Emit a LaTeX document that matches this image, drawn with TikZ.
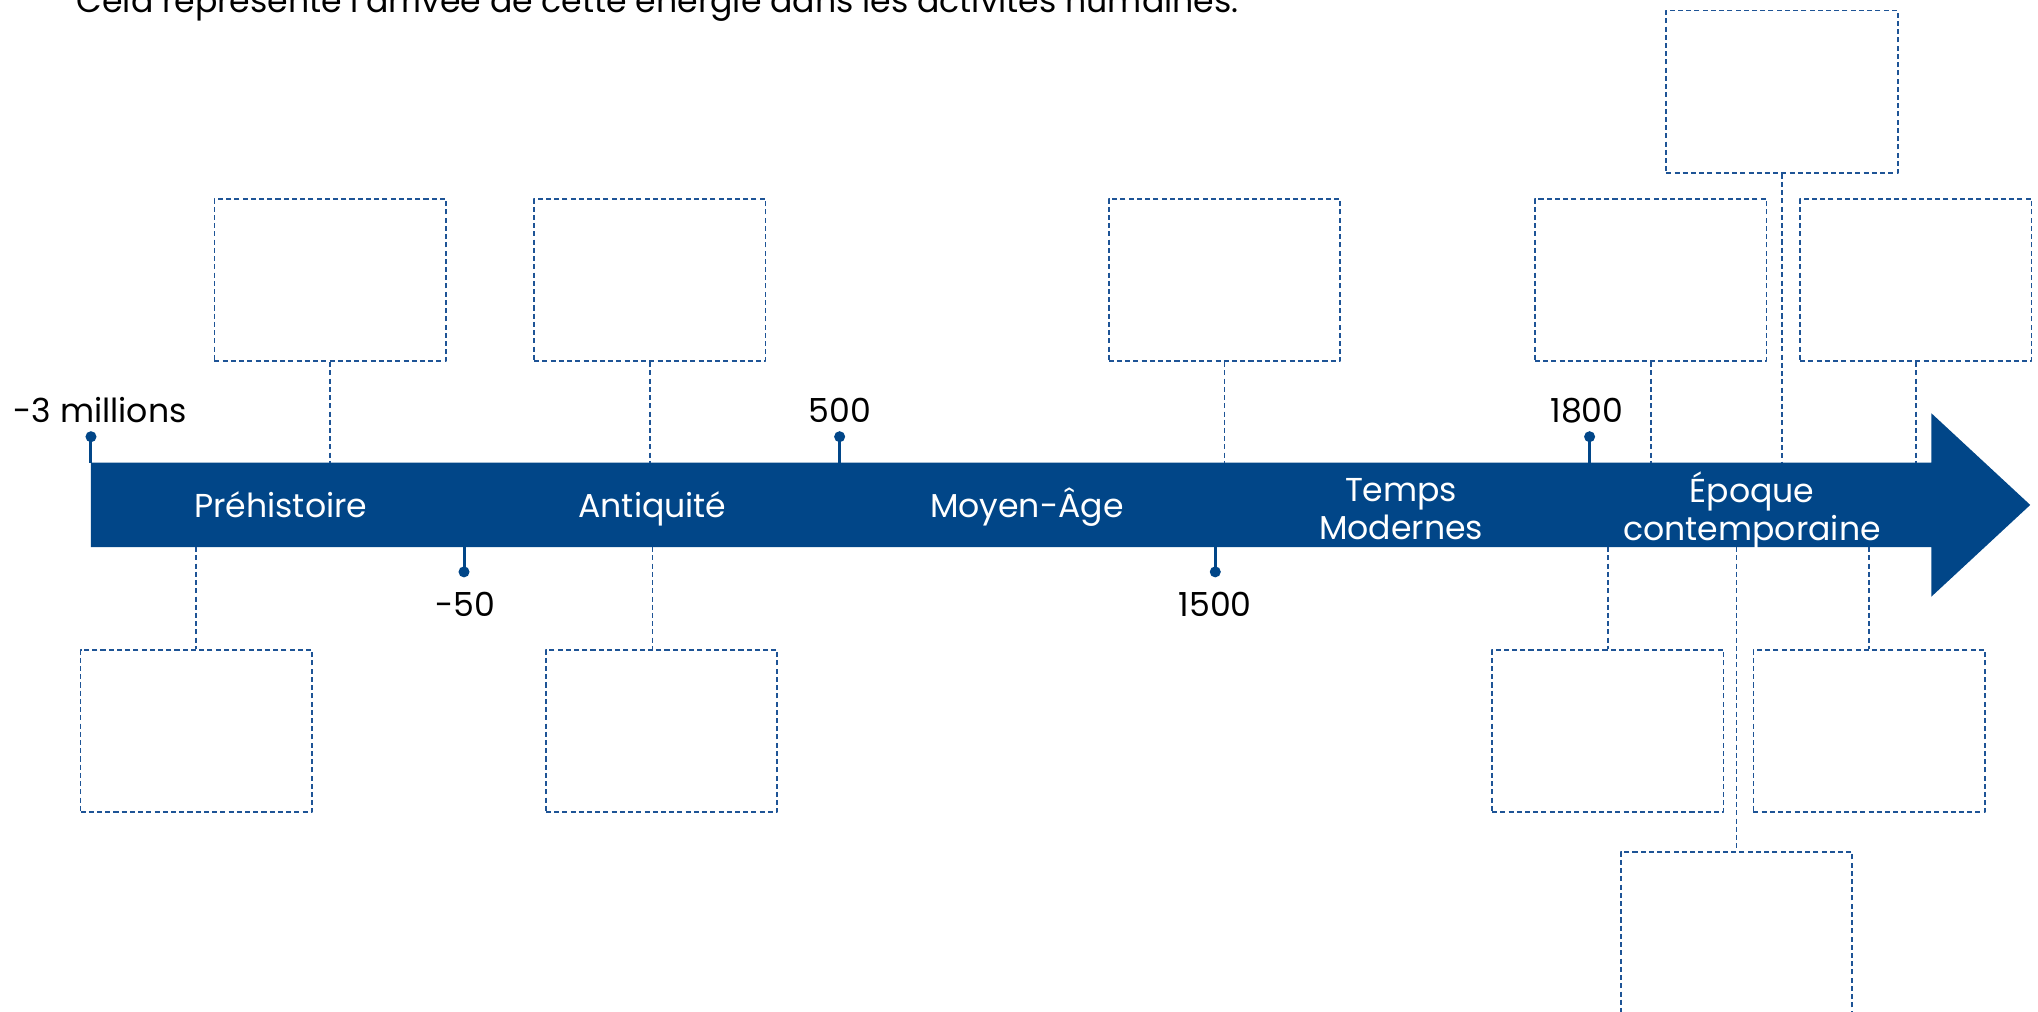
\documentclass[tikz,border=0pt]{standalone}
\usepackage{fontspec}
\setmainfont{Poppins}
\usepackage{tikz}
\usetikzlibrary{positioning}
\definecolor{frise}{RGB}{1,70,136}
\definecolor{pointille}{RGB}{30,84,150}

\begin{document}
\begin{tikzpicture}[line cap=round,line join=round,x=1.0cm,y=1.0cm,
    cadre/.style={draw=pointille,line width=0.75pt,line cap=butt,dash pattern=on 2.2pt off 1.4pt,minimum width=3.56cm,minimum height=2.5cm,inner sep=0pt},
    lien/.style={draw=pointille,line width=0.75pt,line cap=butt,dash pattern=on 2.2pt off 1.4pt},
    point/.style={circle,fill=frise,inner sep=0pt,minimum size=0.17cm},
    repere/.style={draw=frise,line width=1.3pt,line cap=butt},
    date/.style={font=\fontsize{14.5}{17}\selectfont,text=black,inner sep=0pt,anchor=base},
    periode/.style={font=\fontsize{14.5}{16.5}\selectfont,text=white,align=center,inner sep=0pt}]
  \useasboundingbox (0,0) rectangle (31.36,15.56);
  \clip (0,0) rectangle (31.36,15.56);

  % consigne (coupee en haut)
  \node[date] (phrase) at (10.12,15.37) {Cela représente l'arrivée de cette énergie dans les activités humaines.};

  % la frise
  \fill[frise] (1.40,7.14) -- (1.40,8.44) -- (29.72,8.44) -- (29.72,9.20) -- (31.24,7.79) -- (29.72,6.38) -- (29.72,7.14) -- cycle;
  \coordinate (haut) at (0,8.44);
  \coordinate (bas) at (0,7.14);

  % periodes
  \node[periode,anchor=base] (prehist) at (4.32,7.59) {Préhistoire};
  \node[periode,anchor=base] (antiq) at (10.04,7.59) {Antiquité};
  \node[periode,anchor=base] (moyen) at (15.80,7.59) {Moyen-Âge};
  \node[periode] (modernes) at (21.56,7.73) {Temps\\Modernes};
  \node[periode] (contemp) at (26.96,7.71) {Époque\\contemporaine};

  % dates
  \node[point] (pA) at (1.40,8.84) {};
  \node[point] (pB) at (7.14,6.76) {};
  \node[point] (pC) at (12.92,8.84) {};
  \node[point] (pD) at (18.70,6.76) {};
  \node[point] (pE) at (24.46,8.84) {};
  \foreach \p in {pA,pC,pE} \draw[repere] (\p.center) -- (\p |- haut);
  \foreach \p in {pB,pD} \draw[repere] (\p.center) -- (\p |- bas);
  \node[date] (dA) at (1.54,9.06) {-3 millions};
  \node[date] (dB) at (7.16,6.07) {-50};
  \node[date] (dC) at (12.92,9.06) {500};
  \node[date] (dD) at (18.70,6.07) {1500};
  \node[date] (dE) at (24.42,9.06) {1800};

  % cadres du haut
  \node[cadre] (h1) at (5.08,11.25) {};
  \node[cadre] (h2) at (10.00,11.25) {};
  \node[cadre] (h3) at (18.84,11.25) {};
  \node[cadre] (h4) at (25.40,11.25) {};
  \node[cadre] (h5) at (29.48,11.25) {};
  \node[cadre] (h6) at (27.42,14.15) {};
  % cadres du bas
  \node[cadre] (b1) at (3.02,4.31) {};
  \node[cadre] (b2) at (10.18,4.31) {};
  \node[cadre] (b3) at (24.74,4.31) {};
  \node[cadre] (b4) at (28.76,4.31) {};
  \node[cadre] (b5) at (26.72,1.20) {};

  % liaisons
  \foreach \n in {h1,h2,h3,h4,h5,h6} \draw[lien] (\n.south) -- (\n.south |- haut);
  \foreach \n in {b1,b3,b4,b5} \draw[lien] (\n.north |- bas) -- (\n.north);
  \draw[lien] (antiq |- bas) -- (antiq |- b2.north);
\end{tikzpicture}
\end{document}
